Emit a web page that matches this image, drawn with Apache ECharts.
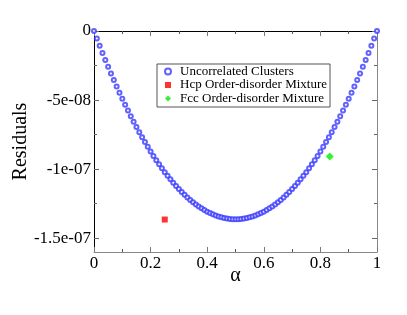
<!DOCTYPE html>
<html>
<head>
<meta charset="utf-8">
<script src="https://cdn.jsdelivr.net/npm/echarts@6/dist/echarts.min.js"></script>
<style>html,body{margin:0;padding:0;background:#fff}#c{width:407px;height:315px}</style>
</head>
<body>
<div id="c"></div>
<script>
const alpha = [0,0.01,0.02,0.03,0.04,0.05,0.06,0.07,0.08,0.09,0.10,0.11,0.12,0.13,0.14,0.15,0.16,0.17,0.18,0.19,0.20,0.21,0.22,0.23,0.24,0.25,0.26,0.27,0.28,0.29,0.30,0.31,0.32,0.33,0.34,0.35,0.36,0.37,0.38,0.39,0.40,0.41,0.42,0.43,0.44,0.45,0.46,0.47,0.48,0.49,0.50,0.51,0.52,0.53,0.54,0.55,0.56,0.57,0.58,0.59,0.60,0.61,0.62,0.63,0.64,0.65,0.66,0.67,0.68,0.69,0.70,0.71,0.72,0.73,0.74,0.75,0.76,0.77,0.78,0.79,0.80,0.81,0.82,0.83,0.84,0.85,0.86,0.87,0.88,0.89,0.90,0.91,0.92,0.93,0.94,0.95,0.96,0.97,0.98,0.99,1.00];
const uncorrelated = [0,-5.40e-9,-1.068e-8,-1.586e-8,-2.093e-8,-2.589e-8,-3.074e-8,-3.548e-8,-4.011e-8,-4.464e-8,-4.905e-8,-5.336e-8,-5.755e-8,-6.164e-8,-6.562e-8,-6.949e-8,-7.325e-8,-7.690e-8,-8.044e-8,-8.388e-8,-8.720e-8,-9.042e-8,-9.352e-8,-9.652e-8,-9.941e-8,-1.0219e-7,-1.0486e-7,-1.0742e-7,-1.0987e-7,-1.1222e-7,-1.1445e-7,-1.1658e-7,-1.1859e-7,-1.2050e-7,-1.2230e-7,-1.2399e-7,-1.2557e-7,-1.2704e-7,-1.2840e-7,-1.2966e-7,-1.3080e-7,-1.3184e-7,-1.3276e-7,-1.3358e-7,-1.3429e-7,-1.3489e-7,-1.3538e-7,-1.3576e-7,-1.3603e-7,-1.3620e-7,-1.3625e-7,-1.3620e-7,-1.3603e-7,-1.3576e-7,-1.3538e-7,-1.3489e-7,-1.3429e-7,-1.3358e-7,-1.3276e-7,-1.3184e-7,-1.3080e-7,-1.2966e-7,-1.2840e-7,-1.2704e-7,-1.2557e-7,-1.2399e-7,-1.2230e-7,-1.2050e-7,-1.1859e-7,-1.1658e-7,-1.1445e-7,-1.1222e-7,-1.0987e-7,-1.0742e-7,-1.0486e-7,-1.0219e-7,-9.941e-8,-9.652e-8,-9.352e-8,-9.042e-8,-8.720e-8,-8.388e-8,-8.044e-8,-7.690e-8,-7.325e-8,-6.949e-8,-6.562e-8,-6.164e-8,-5.755e-8,-5.336e-8,-4.905e-8,-4.464e-8,-4.011e-8,-3.548e-8,-3.074e-8,-2.589e-8,-2.093e-8,-1.586e-8,-1.068e-8,-5.40e-9,0];
const hcpAlpha = [0.25];
const hcpValue = [-1.365e-7];
const fccAlpha = [0.833];
const fccValue = [-9.09e-8];
const seriesNames = ['Uncorrelated Clusters','Hcp Order-disorder Mixture','Fcc Order-disorder Mixture'];
const yMajorTicks = [-1.5e-7,-1e-7,-5e-8,0];
const yMinorTicks = [-1.25e-7,-7.5e-8,-2.5e-8];

const FF = '"Liberation Serif","DejaVu Serif",serif';
function fmtY(v){
  if (Math.abs(v) < 1e-15) return '0';
  let s = v.toExponential();
  return s.replace(/e([+-])(\d)$/, 'e$10$2');
}
function zip(a,b){return a.map((x,i)=>[x,b[i]]);}
const ext = {min:-1.6e-7, max:0};
function xAx(pos, major){
  return {
    type:'value', min:0, max:1, interval:0.2, position:pos,
    axisLine:{show:true,onZero:false,lineStyle:{color: pos==='bottom'?'#888':'#000',width:1}},
    axisTick:{show:true,inside:true,length:5,lineStyle:{color:'#777'}},
    minorTick:{show:true,splitNumber:2,length:3,lineStyle:{color:'#555'}},
    axisLabel: major ? {show:true,fontFamily:FF,fontSize:17,color:'#000',margin:3} : {show:false},
    splitLine:{show:false}, minorSplitLine:{show:false}
  };
}
function yAx(pos, ticks, len, labels, line){
  const o = {
    type:'value', min:ext.min, max:ext.max, position:pos,
    axisLine:{show:line,onZero:false,lineStyle:{color: pos==='right'?'#888':'#000',width:1}},
    axisTick:{show:true,inside:true,length:len,customValues:ticks,lineStyle:{color:'#666'}},
    axisLabel: labels ? {show:true,customValues:ticks,formatter:fmtY,fontFamily:FF,fontSize:17,color:'#000',margin:3} : {show:false},
    splitLine:{show:false}
  };
  return o;
}
const yAxes = [
  yAx('left', yMajorTicks, 5, true, true),
  yAx('left', yMinorTicks, 3, false, false),
  yAx('right', yMajorTicks, 5, false, true),
  yAx('right', yMinorTicks, 3, false, false)
];
Object.assign(yAxes[0], {name:'Residuals', nameLocation:'middle', nameGap:63, nameRotate:90, nameMoveOverlap:false,
  nameTextStyle:{fontFamily:FF,fontSize:20,color:'#000'}});
const xAxes = [xAx('bottom', true), xAx('top', false)];
Object.assign(xAxes[0], {name:'α', nameLocation:'middle', nameGap:14, nameMoveOverlap:false,
  nameTextStyle:{fontFamily:FF,fontSize:20,color:'#000'}});

const chart = echarts.init(document.getElementById('c'), null, {renderer:'canvas'});
chart.setOption({
  animation:false,
  backgroundColor:'#fff',
  grid:{left:94, top:31, right:30, bottom:63, containLabel:false, outerBoundsMode:'none'},
  xAxis:xAxes,
  yAxis:yAxes,
  legend:{
    left:157, top:64, orient:'vertical', itemWidth:6, itemHeight:6, itemGap:0.5,
    padding:[1,3,2,7], borderColor:'#555', borderWidth:1, backgroundColor:'#fff',
    textStyle:{fontFamily:FF,fontSize:13,color:'#000',lineHeight:13,padding:[0,0,0,4]},
    data:[{name:seriesNames[0],icon:'emptyCircle',itemStyle:{borderWidth:0.6}},
          {name:seriesNames[1],icon:'rect'},
          {name:seriesNames[2],icon:'diamond'}]
  },
  series:[
    {name:seriesNames[0], type:'scatter', clip:false, symbol:'emptyCircle', symbolSize:4,
     itemStyle:{color:'#3a3aff',borderColor:'#3a3aff',borderWidth:0.6}, data:zip(alpha,uncorrelated)},
    {name:seriesNames[1], type:'scatter', clip:false, symbol:'rect', symbolSize:6,
     itemStyle:{color:'#ff0000'}, data:zip(hcpAlpha,hcpValue)},
    {name:seriesNames[2], type:'scatter', clip:false, symbol:'diamond', symbolSize:8,
     itemStyle:{color:'#00ee00'}, data:zip(fccAlpha,fccValue)}
  ]
});
</script>
</body>
</html>
